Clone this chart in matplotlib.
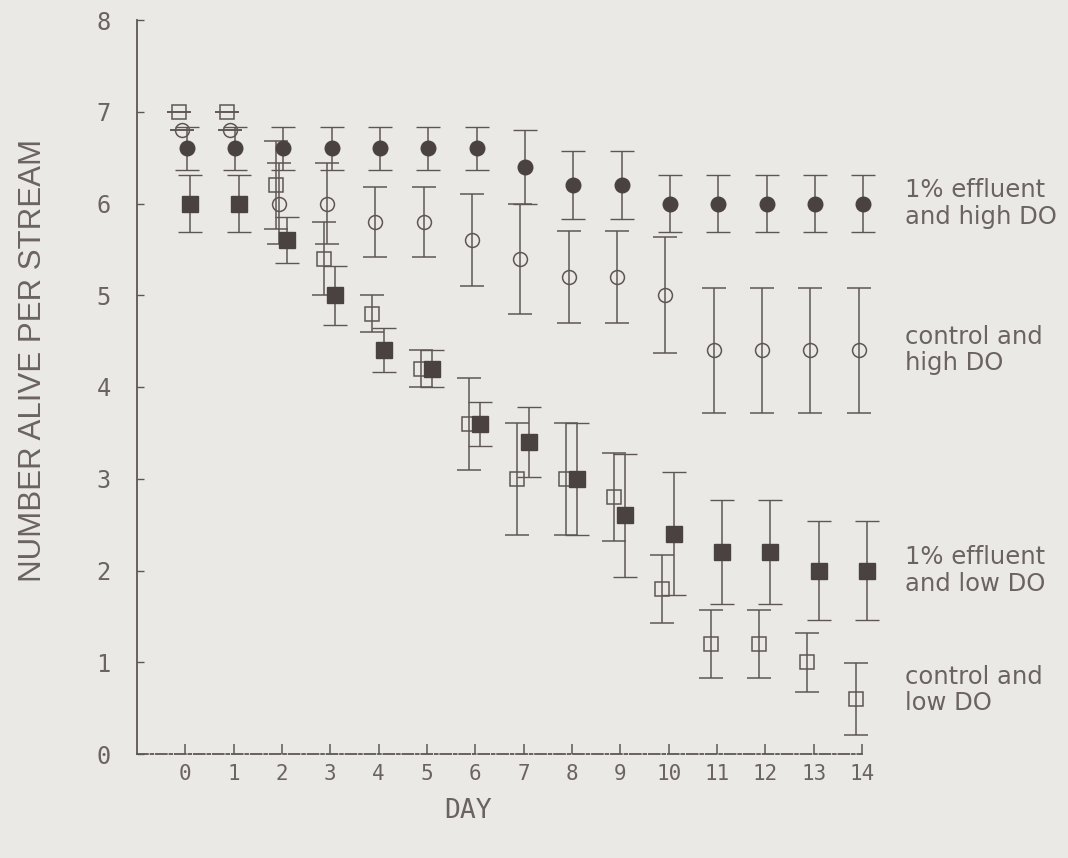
import matplotlib
matplotlib.use("Agg")
import matplotlib.pyplot as plt
from matplotlib import font_manager as fm

# ---- data ----
days = list(range(15))
day_labels = [str(d) for d in days]
y_ticks = [0, 1, 2, 3, 4, 5, 6, 7, 8]

eff_high = [6.6, 6.6, 6.6, 6.6, 6.6, 6.6, 6.6, 6.4, 6.2, 6.2, 6.0, 6.0, 6.0, 6.0, 6.0]
eff_high_err = [0.23, 0.23, 0.23, 0.23, 0.23, 0.23, 0.23, 0.4, 0.37, 0.37, 0.31, 0.31, 0.31, 0.31, 0.31]

ctl_high = [6.8, 6.8, 6.0, 6.0, 5.8, 5.8, 5.6, 5.4, 5.2, 5.2, 5.0, 4.4, 4.4, 4.4, 4.4]
ctl_high_err = [0.0, 0.0, 0.44, 0.44, 0.38, 0.38, 0.5, 0.6, 0.5, 0.5, 0.63, 0.68, 0.68, 0.68, 0.68]

eff_low = [6.0, 6.0, 5.6, 5.0, 4.4, 4.2, 3.6, 3.4, 3.0, 2.6, 2.4, 2.2, 2.2, 2.0, 2.0]
eff_low_err = [0.31, 0.31, 0.25, 0.32, 0.24, 0.2, 0.24, 0.38, 0.61, 0.67, 0.67, 0.57, 0.57, 0.54, 0.54]

ctl_low = [7.0, 7.0, 6.2, 5.4, 4.8, 4.2, 3.6, 3.0, 3.0, 2.8, 1.8, 1.2, 1.2, 1.0, 0.6]
ctl_low_err = [0.0, 0.0, 0.48, 0.4, 0.2, 0.2, 0.5, 0.61, 0.61, 0.48, 0.37, 0.37, 0.37, 0.32, 0.39]

series_labels = ["1% effluent\nand high DO", "control and\nhigh DO",
                 "1% effluent\nand low DO", "control and\nlow DO"]
label_y = [6.0, 4.4, 2.0, 0.7]

# ---- style ----
BG = "#ebe9e6"
LINE = "#5e5654"
DARK = "#4a4240"
TXT = "#6a6361"

names = {f.name for f in fm.fontManager.ttflist}
if "Liberation Sans Narrow" in names:
    ylab_family, ylab_size = "Liberation Sans Narrow", 27
else:
    ylab_family, ylab_size = "Liberation Sans", 22.5

fig = plt.figure(figsize=(10.68, 8.58), dpi=100, facecolor=BG)
ax = fig.add_axes([137 / 1068, 1 - 754 / 858, (862 - 137) / 1068, (754 - 20) / 858])
ax.set_facecolor(BG)

cap = 8.5
common = dict(ecolor=LINE, elinewidth=1.1, capsize=cap, capthick=1.1,
              linestyle="none", clip_on=False, zorder=3)

x_eh = [d + 0.03 for d in days]
x_ch = [d - 0.07 for d in days]
x_el = [d + 0.10 for d in days]
x_cl = [d - 0.13 for d in days]

ax.errorbar(x_ch, ctl_high, yerr=ctl_high_err, fmt="o", ms=10, mfc="none",
            mec=LINE, mew=1.1, **common)
ax.errorbar(x_cl, ctl_low, yerr=ctl_low_err, fmt="s", ms=10.5, mfc="none",
            mec=LINE, mew=1.1, **common)
ax.errorbar(x_eh, eff_high, yerr=eff_high_err, fmt="o", ms=10.5, mfc=DARK,
            mec=DARK, mew=1.0, **common)
ax.errorbar(x_el, eff_low, yerr=eff_low_err, fmt="s", ms=11, mfc=DARK,
            mec=DARK, mew=1.0, **common)

ax.set_xlim(-1, 14)
ax.set_ylim(0, 8)

for s in ["top", "right"]:
    ax.spines[s].set_visible(False)
ax.spines["left"].set_color(LINE)
ax.spines["left"].set_linewidth(1.3)
ax.spines["bottom"].set_color(LINE)
ax.spines["bottom"].set_linewidth(1.3)
ax.spines["bottom"].set_linestyle((0, (6, 1.5, 1.5, 1.5)))

ax.set_xticks(days)
ax.set_xticklabels(day_labels)
ax.set_yticks(y_ticks)
ax.set_yticklabels([str(v) for v in y_ticks])
ax.tick_params(axis="x", direction="in", length=7, width=1.1, color=LINE,
               labelsize=15, labelcolor=TXT, pad=7)
ax.tick_params(axis="y", direction="in", length=5, width=1.0, color=LINE,
               labelsize=17, labelcolor=TXT, pad=19)
for t in ax.get_xticklabels() + ax.get_yticklabels():
    t.set_family("DejaVu Sans Mono")

for lab, yv in zip(series_labels, label_y):
    ax.text(14.89, yv, lab, ha="left", va="center", fontsize=17.5,
            color=TXT, family="DejaVu Sans", linespacing=1.12, clip_on=False)

fig.text(468 / 1068, 1 - 811 / 858, "DAY", ha="center", va="center",
         fontsize=19, color=TXT, family="DejaVu Sans Mono")
fig.text(33 / 1068, 1 - 360 / 858, "NUMBER ALIVE PER STREAM", rotation=90,
         ha="center", va="center", fontsize=ylab_size, color=TXT,
         family=ylab_family)

fig.savefig("out.png", dpi=100, facecolor=BG)
